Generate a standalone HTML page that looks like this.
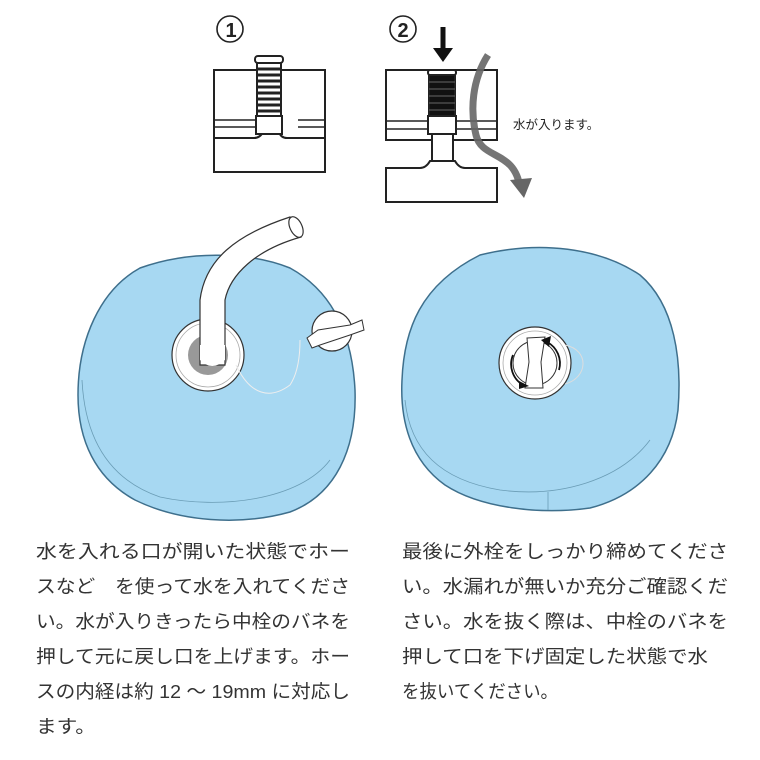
<!DOCTYPE html>
<html><head><meta charset="utf-8"><style>
html,body{margin:0;padding:0;background:#fff;width:760px;height:760px;overflow:hidden}
svg{display:block}
text{font-family:"Liberation Sans","Noto Sans CJK JP",sans-serif}
</style></head><body>
<svg width="760" height="760" viewBox="0 0 760 760" xmlns="http://www.w3.org/2000/svg">
<g fill="none" stroke="#222" stroke-width="2">
<circle cx="230" cy="29" r="13" stroke-width="1.6"/>
<rect x="214" y="70" width="111" height="102" fill="#fff"/>
<path d="M214 120 H259 M298 120 H325 M214 127 H259 M298 127 H325" stroke-width="1.5"/>
<path d="M214 138 H254 Q260 138 263 132 L263 117 M325 138 H287 Q281 138 279 132 L279 117"/>
<rect x="256" y="116" width="26" height="18" fill="#fff"/>
<rect x="255" y="56" width="28" height="7" rx="3" fill="#fff"/>
<rect x="257" y="63" width="24" height="53" fill="#fff"/>
<path d="M256 69 H282 M256 75 H282 M256 81 H282 M256 87 H282 M256 93 H282 M256 99 H282 M256 105 H282 M256 111 H282" stroke-width="3"/>
<circle cx="403" cy="29" r="13" stroke-width="1.6"/>
<rect x="386" y="70" width="111" height="70" fill="#fff"/>
<path d="M386 121 H428 M457 121 H497 M386 129 H428 M457 129 H497" stroke-width="1.5"/>
<rect x="428" y="116" width="28" height="18" fill="#fff"/>
<rect x="432" y="134" width="21" height="28" fill="#fff"/>
<path d="M386 168 H420 Q426 168 430 161 H455 Q459 168 465 168 H497 V202 H386 Z" fill="#fff"/>
<rect x="428" y="70" width="28" height="5" rx="2" fill="#fff"/>
<rect x="429" y="75" width="26" height="41" fill="#111"/>
<path d="M429 82 H455 M429 89 H455 M429 96 H455 M429 103 H455 M429 110 H455" stroke="#666" stroke-width="1"/>
</g>
<path d="M443 27 V50" stroke="#111" stroke-width="5"/>
<path d="M433 48 L453 48 L443 62 Z" fill="#111"/>
<path d="M488 55 C472 80 470 110 476 135 C482 160 515 150 520 188" fill="none" stroke="#666" stroke-width="7" opacity="0.9"/>
<path d="M510 180 L532 178 L524 198 Z" fill="#666"/>
<text x="231" y="37" font-size="20" font-weight="bold" fill="#222" text-anchor="middle">1</text>
<text x="403" y="37" font-size="20" font-weight="bold" fill="#222" text-anchor="middle">2</text>
<text x="513" y="129" font-size="12.5" fill="#222">水が入ります。</text>

<!-- left bag -->
<path d="M140 268 C190 250 250 252 290 268 C330 290 352 330 355 390 C357 450 335 495 290 512 C240 526 180 522 135 500 C95 478 78 440 78 395 C78 340 100 290 140 268 Z" fill="#a7d8f2" stroke="#3e6f8c" stroke-width="1.5"/>
<path d="M82 380 C85 440 110 480 160 497 C220 510 300 500 330 460" fill="none" stroke="#6a9cb5" stroke-width="0.8"/>
<circle cx="208" cy="355" r="36" fill="#fff" stroke="#333" stroke-width="1.2"/>
<circle cx="208" cy="355" r="32" fill="none" stroke="#aaa" stroke-width="0.8"/>
<circle cx="208" cy="355" r="20" fill="#999"/>
<path d="M236 365 C250 395 270 400 290 385 C300 370 300 345 300 340" fill="none" stroke="#eee" stroke-width="1"/>
<circle cx="332" cy="331" r="20" fill="#fff" stroke="#333" stroke-width="1.2"/>
<path d="M307 338 L318 330 L350 325 L362 320 L364 330 L350 335 L320 345 L312 348 Z" fill="#fff" stroke="#333" stroke-width="1"/>
<path d="M200 365 L200 300 C205 260 235 235 290 217 L301 237 C255 250 230 275 225 300 L225 365 Z" fill="#fff" stroke="#333" stroke-width="1.2"/>
<ellipse cx="296" cy="227" rx="6" ry="11" transform="rotate(-25 296 227)" fill="#fff" stroke="#333" stroke-width="1.2"/>
<path d="M200 360 Q212 372 225 360 L225 345 L200 345 Z" fill="#fff" stroke="none"/>

<!-- right bag -->
<path d="M480 255 C540 240 600 248 640 275 C675 305 682 360 678 410 C672 460 640 495 590 508 C540 515 480 508 445 485 C410 460 400 420 402 380 C404 330 420 285 480 255 Z" fill="#a7d8f2" stroke="#3e6f8c" stroke-width="1.5"/>
<path d="M405 400 C410 450 440 480 500 490 C560 498 620 480 650 440" fill="none" stroke="#6a9cb5" stroke-width="0.8"/>
<path d="M548 492 V510" stroke="#6a9cb5" stroke-width="0.8"/>
<circle cx="535" cy="363" r="36" fill="#fff" stroke="#333" stroke-width="1.2"/>
<circle cx="535" cy="363" r="32" fill="none" stroke="#aaa" stroke-width="0.8"/>
<path d="M565 345 C590 350 588 378 565 384" fill="none" stroke="#ddd" stroke-width="1"/>
<circle cx="535" cy="363" r="22" fill="none" stroke="#333" stroke-width="1"/>
<path d="M527 338 L545 337 L541 362 L543 388 L525 388 L529 362 Z" fill="#fff" stroke="#333" stroke-width="1"/>
<path d="M547 342 A24 24 0 0 1 559 370" fill="none" stroke="#111" stroke-width="1.8"/>
<path d="M541 340 L551 336 L549 347 Z" fill="#111"/>
<path d="M513 355 A24 24 0 0 0 523 385" fill="none" stroke="#111" stroke-width="1.8"/>
<path d="M519 381 L529 386 L519 389 Z" fill="#111"/>

<g font-size="18.5" fill="#333">
<text x="36" y="558" textLength="314" lengthAdjust="spacingAndGlyphs">水を入れる口が開いた状態でホー</text>
<text x="36" y="593" textLength="314" lengthAdjust="spacingAndGlyphs">スなど　を使って水を入れてくださ</text>
<text x="36" y="628" textLength="314" lengthAdjust="spacingAndGlyphs">い。水が入りきったら中栓のバネを</text>
<text x="36" y="663" textLength="314" lengthAdjust="spacingAndGlyphs">押して元に戻し口を上げます。ホー</text>
<text x="36" y="698" textLength="314" lengthAdjust="spacingAndGlyphs">スの内経は約 12 〜 19mm に対応し</text>
<text x="36" y="733" textLength="60" lengthAdjust="spacingAndGlyphs">ます。</text>
<text x="402" y="558" textLength="326" lengthAdjust="spacingAndGlyphs">最後に外栓をしっかり締めてくださ</text>
<text x="402" y="593" textLength="326" lengthAdjust="spacingAndGlyphs">い。水漏れが無いか充分ご確認くだ</text>
<text x="402" y="628" textLength="326" lengthAdjust="spacingAndGlyphs">さい。水を抜く際は、中栓のバネを</text>
<text x="402" y="663" textLength="306" lengthAdjust="spacingAndGlyphs">押して口を下げ固定した状態で水</text>
<text x="402" y="698" textLength="156" lengthAdjust="spacingAndGlyphs">を抜いてください。</text>
</g>
</svg>
</body></html>
